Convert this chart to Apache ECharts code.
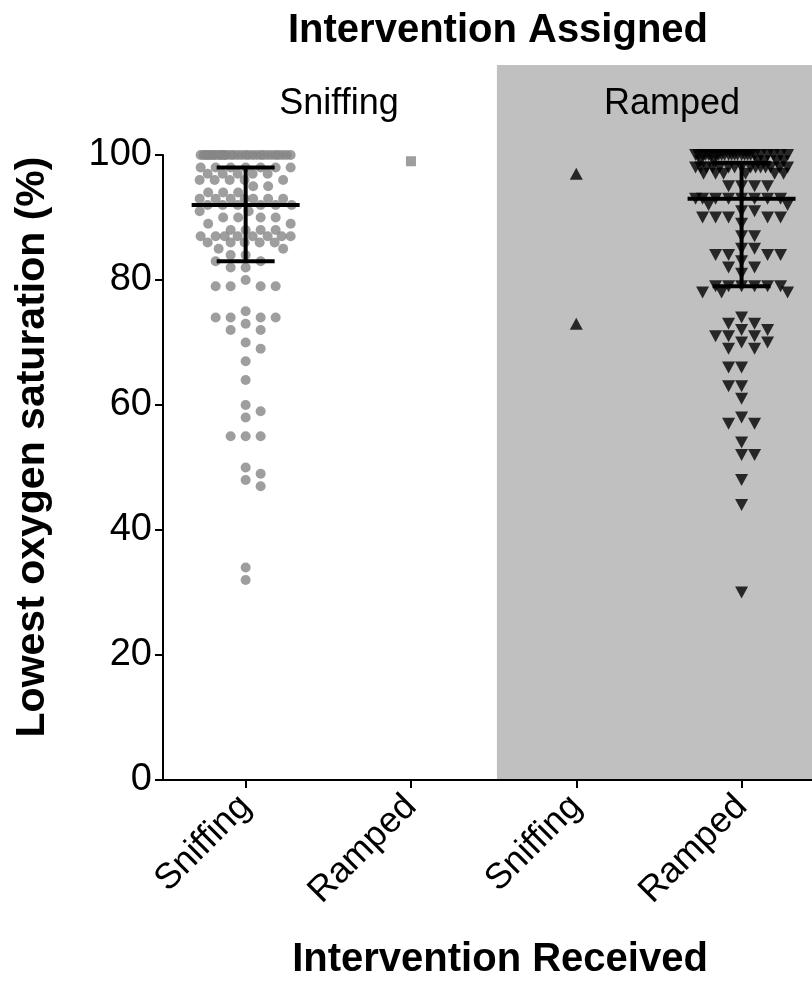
<!DOCTYPE html>
<html>
<head>
<meta charset="utf-8">
<script src="https://cdn.jsdelivr.net/npm/echarts@6/dist/echarts.min.js"></script>
<style>
  html, body { margin: 0; padding: 0; background: #fff; }
  #main { width: 812px; height: 981px; }
</style>
</head>
<body>
<div id="main"></div>
<script>
// categories / ticks
var receivedLabels = ['Sniffing', 'Ramped', 'Sniffing', 'Ramped'];
var assignedLabels = ['Sniffing', 'Ramped'];
var tickPositions = [1, 2, 3, 4];

// lowest oxygen saturation per patient, read off the swarm
// assigned sniffing / received sniffing
var sniffSniff = [
  100, 100, 100, 100, 100, 100, 100, 100, 100, 100,
  100, 100, 100, 100, 100, 100, 100, 100, 100, 100,
  100, 100, 100, 100, 100, 100, 100, 100, 100, 100,
  98, 98, 98, 98, 98, 98, 98,
  97, 97, 97, 97, 97,
  96, 96, 96, 96, 96,
  95, 95,
  94, 94, 94,
  93, 93, 93, 93, 93, 93, 93,
  92, 92, 92, 92, 92, 92,
  91, 91,
  90, 90, 90, 90,
  89, 89,
  88, 88, 88, 88,
  87, 87, 87, 87, 87, 87, 87, 87,
  86, 86, 86, 86, 86,
  85, 85,
  84, 84,
  83, 83,
  82, 82,
  80,
  79, 79, 79, 79,
  75,
  74, 74, 74, 74,
  73,
  72, 72,
  70, 69, 67, 64, 60, 59, 58,
  55, 55, 55,
  50, 49, 48, 47, 34, 32
];
// assigned sniffing / received ramped
var sniffRamp = [99];
// assigned ramped / received sniffing
var rampSniff = [97, 73];
// assigned ramped / received ramped
var rampRamp = [
  100, 100, 100, 100, 100, 100, 100, 100, 100, 100, 100, 100,
  100, 100, 100, 100, 100, 100, 100, 100, 100, 100, 100, 100,
  99, 99, 99, 99, 99, 99,
  98, 98, 98, 98, 98, 98, 98, 98, 98, 98, 98, 98, 98, 98, 98,
  97, 97, 97, 97, 97, 97,
  95, 95, 95, 95,
  93, 93, 93, 93, 93, 93, 93, 93,
  92, 92,
  91, 91,
  90, 90, 90, 90, 90,
  89,
  87, 87,
  85, 85,
  84, 84, 84, 84,
  83,
  82, 82,
  81,
  79, 79, 79, 79, 79, 79,
  78, 78, 78,
  74,
  73, 73,
  72, 72,
  71, 71, 71,
  70, 70,
  69, 69,
  66, 66,
  63, 63,
  61, 58,
  57, 57,
  54,
  52, 52,
  48, 44, 30
];

var font = '"Liberation Sans", Arial, Helvetica, sans-serif';
var chart = echarts.init(document.getElementById('main'));

chart.setOption({
  animation: false,
  title: [
    { text: 'Intervention Assigned', left: 493, top: 6, textAlign: 'center',
      textStyle: { fontSize: 40, fontWeight: 'bold', color: '#000', fontFamily: font } },
    { text: assignedLabels[0], left: 334, top: 81, textAlign: 'center',
      textStyle: { fontSize: 36, fontWeight: 'normal', color: '#000', fontFamily: font } },
    { text: assignedLabels[1], left: 667, top: 81, textAlign: 'center',
      textStyle: { fontSize: 36, fontWeight: 'normal', color: '#000', fontFamily: font } },
    { text: 'Intervention Received', left: 495, top: 935, textAlign: 'center',
      textStyle: { fontSize: 40, fontWeight: 'bold', color: '#000', fontFamily: font } }
  ],
  grid: { left: 163, right: 0, top: 155, bottom: 201 },
  xAxis: {
    type: 'value', min: 0.5, max: 4.426,
    axisLine: { onZero: false, lineStyle: { color: '#000', width: 2 } },
    axisTick: { customValues: tickPositions, length: 8, lineStyle: { color: '#000', width: 2 } },
    axisLabel: {
      customValues: tickPositions,
      formatter: function (v) { return receivedLabels[Math.round(v) - 1]; },
      rotate: 45, fontSize: 36, margin: 21, color: '#000', fontFamily: font
    },
    splitLine: { show: false }
  },
  yAxis: {
    type: 'value', min: 0, max: 100, interval: 20,
    axisLine: { show: true, lineStyle: { color: '#000', width: 2 } },
    axisTick: { show: true, length: 8, lineStyle: { color: '#000', width: 2 } },
    axisLabel: { fontSize: 38, color: '#000', margin: 11, fontFamily: font },
    splitLine: { show: false }
  },
  series: []
});

// pixel scale of the axes, for a swarm layout without overlaps
var pxX = chart.convertToPixel({ xAxisIndex: 0 }, 2) - chart.convertToPixel({ xAxisIndex: 0 }, 1);
var pxY = chart.convertToPixel({ yAxisIndex: 0 }, 0) - chart.convertToPixel({ yAxisIndex: 0 }, 1);

function swarm(values, center, dia, step, half) {
  var order = values.map(function (v, i) { return i; })
    .sort(function (a, b) { return values[b] - values[a]; });
  var placed = [];
  var out = [];
  order.forEach(function (i) {
    var py = values[i] * pxY;
    function minDist(px) {
      var m = Infinity;
      for (var k = 0; k < placed.length; k++) {
        var dx = placed[k][0] - px, dy = placed[k][1] - py;
        var d = Math.sqrt(dx * dx + dy * dy);
        if (d < m) m = d;
      }
      return m;
    }
    var px = null;
    var sign = placed.length % 2 ? -1 : 1;
    for (var s = 0; s * step <= half && px === null; s++) {
      var cands = s === 0 ? [0] : [sign * s * step, -sign * s * step];
      for (var c = 0; c < cands.length; c++) {
        if (minDist(cands[c]) >= dia) { px = cands[c]; break; }
      }
    }
    if (px === null) {
      var best = -1;
      for (var x = -half; x <= half; x++) {
        var m = minDist(x);
        if (m > best + 1e-6) { best = m; px = x; }
      }
    }
    placed.push([px, py]);
    out.push([center + px / pxX, values[i]]);
  });
  return out;
}

// median and interquartile range
function quantile(values, p) {
  var s = values.slice().sort(function (a, b) { return a - b; });
  var pos = p * (s.length + 1);
  var lo = Math.max(1, Math.min(s.length, Math.floor(pos)));
  var hi = Math.max(1, Math.min(s.length, Math.ceil(pos)));
  return s[lo - 1] + (pos - Math.floor(pos)) * (s[hi - 1] - s[lo - 1]);
}
function iqr(values, x) {
  return [x, quantile(values, 0.25), quantile(values, 0.5), quantile(values, 0.75)];
}

var panelLeft = chart.convertToPixel({ xAxisIndex: 0 }, 2.52);
var panelBottom = chart.convertToPixel({ yAxisIndex: 0 }, 0);

chart.setOption({
  graphic: [{
    type: 'rect', z: -10, silent: true,
    shape: { x: panelLeft, y: 65, width: 812 - panelLeft, height: panelBottom - 65 },
    style: { fill: '#c0c0c0' }
  }, {
    type: 'text', x: 33, y: 447, rotation: Math.PI / 2, silent: true,
    style: {
      text: 'Lowest oxygen saturation (%)', align: 'center', verticalAlign: 'middle',
      font: 'bold 41px ' + font, fill: '#000'
    }
  }],
  series: [
    { type: 'scatter', name: 'S/S', data: swarm(sniffSniff, 1, 10.5, 7.5, 46),
      symbol: 'circle', symbolSize: 10, itemStyle: { color: '#868686' } },
    { type: 'scatter', name: 'S/R', data: swarm(sniffRamp, 2, 10.5, 7.5, 46),
      symbol: 'rect', symbolSize: 10, itemStyle: { color: '#868686' } },
    { type: 'scatter', name: 'R/S', data: swarm(rampSniff, 3, 12, 6.5, 46),
      symbol: 'triangle', symbolSize: [13, 12], itemStyle: { color: '#000' } },
    { type: 'scatter', name: 'R/R', data: swarm(rampRamp, 4, 12, 6.5, 46),
      symbol: 'triangle', symbolSize: [13, 12], symbolRotate: 180, itemStyle: { color: '#000' } },
    {
      type: 'custom', z: 5,
      data: [iqr(sniffSniff, 1), iqr(rampRamp, 4)],
      renderItem: function (params, api) {
        var x = api.value(0);
        var q1 = api.coord([x, api.value(1)]);
        var md = api.coord([x, api.value(2)]);
        var q3 = api.coord([x, api.value(3)]);
        var st = { stroke: '#000', lineWidth: 4 };
        return {
          type: 'group',
          children: [
            { type: 'line', shape: { x1: q1[0], y1: q1[1], x2: q3[0], y2: q3[1] }, style: st },
            { type: 'line', shape: { x1: md[0] - 54, y1: md[1], x2: md[0] + 54, y2: md[1] }, style: st },
            { type: 'line', shape: { x1: q1[0] - 29, y1: q1[1], x2: q1[0] + 29, y2: q1[1] }, style: st },
            { type: 'line', shape: { x1: q3[0] - 29, y1: q3[1], x2: q3[0] + 29, y2: q3[1] }, style: st }
          ]
        };
      }
    }
  ]
});
</script>
</body>
</html>
